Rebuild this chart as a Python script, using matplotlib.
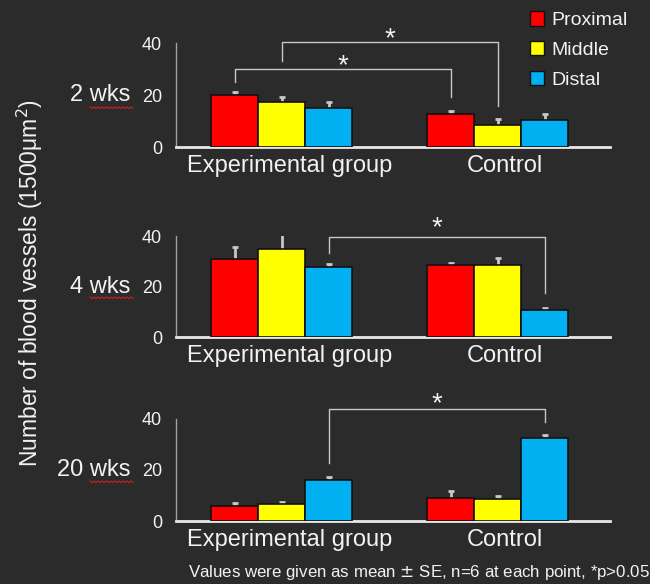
import matplotlib
matplotlib.use("Agg")
import matplotlib.pyplot as plt
import numpy as np
from matplotlib.lines import Line2D
from matplotlib.patches import Patch

plt.rcParams['font.family'] = ['Liberation Sans', 'DejaVu Sans']

groups = ["Experimental group", "Control"]
series = ["Proximal", "Middle", "Distal"]
colors = ["#ff0000", "#ffff00", "#00b0f0"]
periods = ["2 wks", "4 wks", "20 wks"]

# values[series] -> [exp, control]
means_2 = {"Proximal": [20.0, 12.7], "Middle": [17.3, 8.5], "Distal": [15.0, 10.3]}
err_2 = {"Proximal": [1.2, 1.2], "Middle": [1.9, 2.3], "Distal": [2.3, 2.3]}
means_4 = {"Proximal": [31.0, 28.5], "Middle": [35.0, 28.5], "Distal": [27.7, 10.7]}
err_4 = {"Proximal": [4.8, 1.0], "Middle": [5.6, 2.8], "Distal": [1.2, 0.9]}
means_20 = {"Proximal": [5.9, 9.0], "Middle": [6.5, 8.6], "Distal": [16.0, 32.5]}
err_20 = {"Proximal": [1.3, 2.7], "Middle": [0.9, 1.3], "Distal": [1.3, 1.2]}

all_means = [means_2, means_4, means_20]
all_errs = [err_2, err_4, err_20]

# significance brackets: (series_left, group_left, left_leg_bottom, series_right, group_right, right_leg_bottom, top, star_y)
brackets = [
    [("Proximal", 0, 25.0, "Proximal", 1, 19.2, 30.0, 26.2),
     ("Middle", 0, 33.0, "Middle", 1, 15.8, 40.4, 36.5)],
    [("Distal", 0, 33.3, "Distal", 1, 17.4, 39.6, 38.0)],
    [("Distal", 0, 22.7, "Distal", 1, 38.8, 43.9, 40.8)],
]

bg = "#2b2b2b"
fg = "#f2f2f2"
W, H = 650, 584
fig = plt.figure(figsize=(W / 100, H / 100), dpi=100, facecolor=bg)

ax_rects = [(43, 147), (236, 337), (419, 521)]
left_px, right_px = 176, 610
bw = 0.218

for i, (top_px, bot_px) in enumerate(ax_rects):
    ax = fig.add_axes([left_px / W, 1 - bot_px / H, (right_px - left_px) / W, (bot_px - top_px) / H])
    ax.set_facecolor(bg)
    ax.patch.set_alpha(0)
    x = np.arange(len(groups))
    for j, s in enumerate(series):
        cont = ax.bar(x + (j - 1) * bw, all_means[i][s], width=bw, color=colors[j],
                      edgecolor="#111111", linewidth=1.2,
                      yerr=[np.zeros(len(groups)), all_errs[i][s]],
                      error_kw=dict(ecolor="#c8c8c8", elinewidth=2.0, capsize=2.5, capthick=2.0,
                                    zorder=2), zorder=3)
        eb = cont.errorbar
        if eb is not None:
            caps = eb.lines[1]
            if len(caps) >= 2:
                caps[0].set_visible(False)
    for (sl, gl, lb, sr, gr, rb, top, sy) in brackets[i]:
        xl = gl + (series.index(sl) - 1) * bw
        xr = gr + (series.index(sr) - 1) * bw
        ax.plot([xl, xl, xr, xr], [lb, top, top, rb], color="#c8c8c8", lw=1.0, clip_on=False, zorder=4)
        ax.text((xl + xr) / 2, sy, "*", color=fg, fontsize=20, ha="center", va="bottom", clip_on=False)
    ax.set_xlim(-0.49, 1.52)
    ax.set_ylim(0, 40)
    ax.set_yticks([0, 20, 40])
    ax.set_yticklabels(["0", "20", "40"], fontsize=13, color=fg)
    ax.tick_params(axis="y", length=0, pad=10)
    ax.set_yticks([40], minor=True)
    ax.tick_params(axis="y", which="minor", length=4, direction="in", color="#a0a0a0", width=1)
    ax.set_xticks(x + 0.035)
    ax.set_xticklabels(groups, fontsize=17, color=fg)
    ax.tick_params(axis="x", length=0, pad=6)
    for sp in ["top", "right"]:
        ax.spines[sp].set_visible(False)
    ax.spines["left"].set_color("#a0a0a0")
    ax.spines["left"].set_linewidth(1)
    ax.spines["bottom"].set_color("#e8e8e8")
    ax.spines["bottom"].set_linewidth(2)
    # period label
    ax.text(-0.105, 0.5, periods[i], transform=ax.transAxes, fontsize=17, color=fg,
            ha="right", va="center")

# red spell-check squiggles under "wks"
for (x0, x1, yy) in [(90, 133, 107), (90, 133, 297), (90, 133, 481)]:
    n = 22
    xs = np.linspace(x0, x1, n)
    ys = yy + np.where(np.arange(n) % 2 == 0, 0, 1.5)
    fig.add_artist(Line2D(xs / W, 1 - ys / H, color="#d02020", lw=0.8))

fig.text(30 / W, 1 - 283 / H, "Number of blood vessels (1500μm$^2$)", rotation=90,
         fontsize=16.5, color=fg, ha="center", va="center")

handles = [Patch(facecolor=c, edgecolor="#111111", label=s) for c, s in zip(colors, series)]
leg = fig.legend(handles=handles, loc="upper right", bbox_to_anchor=(645 / W, 1 + 6 / H),
                 frameon=False, fontsize=14, handlelength=0.75, handleheight=0.75,
                 handletextpad=0.35, labelspacing=0.6)
for t in leg.get_texts():
    t.set_color(fg)

fig.text(650 / W, 1 - 573 / H, "Values were given as mean $\\pm$ SE, n=6 at each point, *p>0.05",
         fontsize=12.2, color=fg, ha="right", va="center")

fig.savefig("out.png", dpi=100, facecolor=bg)
